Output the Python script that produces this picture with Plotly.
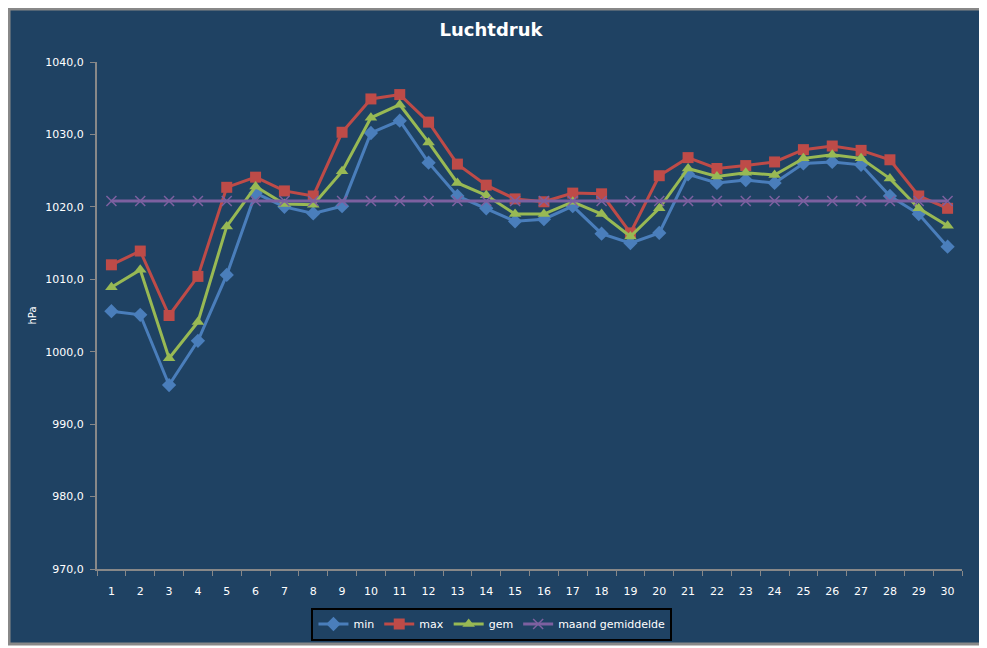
import plotly.graph_objects as go

# dagen van de maand
dagen = [str(d) for d in range(1, 31)]

# luchtdruk in hPa
p_min = [1005.6, 1005.1, 995.4, 1001.5, 1010.6, 1021.9, 1020.0, 1019.1, 1020.1, 1030.2,
         1031.9, 1026.1, 1021.5, 1019.8, 1018.0, 1018.3, 1020.1, 1016.3, 1015.0, 1016.4,
         1024.5, 1023.3, 1023.7, 1023.3, 1026.0, 1026.2, 1025.8, 1021.5, 1019.0, 1014.5]
p_max = [1012.0, 1013.9, 1005.0, 1010.4, 1022.7, 1024.1, 1022.2, 1021.5, 1030.3, 1034.9,
         1035.5, 1031.7, 1025.9, 1023.0, 1021.1, 1020.7, 1021.9, 1021.8, 1016.4, 1024.3,
         1026.8, 1025.3, 1025.7, 1026.2, 1027.9, 1028.4, 1027.8, 1026.5, 1021.5, 1019.8]
p_gem = [1008.9, 1011.3, 999.1, 1004.1, 1017.3, 1022.8, 1020.4, 1020.3, 1024.9, 1032.3,
         1034.1, 1028.9, 1023.3, 1021.6, 1019.0, 1019.0, 1020.7, 1019.0, 1015.9, 1019.8,
         1025.3, 1024.2, 1024.7, 1024.4, 1026.7, 1027.2, 1026.7, 1023.9, 1019.8, 1017.4]
p_maand = [1020.8] * 30

bg = "#1F4263"
font = "Verdana, DejaVu Sans, sans-serif"

fig = go.Figure()

series = [
    ("min", p_min, "#4A7EBB", "diamond", 11),
    ("max", p_max, "#BE4B48", "square", 11),
    ("gem", p_gem, "#98B954", "triangle-up", 11),
    ("maand gemiddelde", p_maand, "#7D60A0", "x-thin", 10),
]
for naam, waarden, kleur, symbool, grootte in series:
    fig.add_trace(go.Scatter(
        x=dagen,
        y=waarden,
        name=naam,
        mode="lines+markers",
        line=dict(color=kleur, width=3),
        marker=dict(symbol=symbool, size=grootte, color=kleur,
                    line=dict(color=kleur, width=1.5 if symbool == "x-thin" else 0)),
    ))

# achtergrondkader met grijze rand
fig.add_shape(type="rect", xref="paper", yref="paper",
              x0=-0.1017, x1=1.0231, y0=-0.1479, y1=1.1045,
              fillcolor=bg, line=dict(color="#888888", width=3), layer="below")

# de pagina heeft 8px marge rond de figuur
fig.update_layout(
    width=979,
    height=640,
    margin=dict(l=89, r=25, t=54, b=79, autoexpand=False),
    paper_bgcolor="white",
    plot_bgcolor=bg,
    separators=", ",
    font=dict(family=font, size=11, color="white"),
    title=dict(text="<b>Luchtdruk</b>", x=0.4934, xref="container", xanchor="center",
               y=0.9656, yref="container", yanchor="middle",
               font=dict(family=font, size=18, color="white")),
    showlegend=True,
    legend=dict(orientation="h", x=0.4566, y=-0.1085, xanchor="center", yanchor="middle",
                bgcolor=bg, bordercolor="black", borderwidth=2,
                font=dict(family=font, size=11, color="white"),
                itemwidth=30, tracegroupgap=0),
)

fig.update_xaxes(
    type="category",
    range=[-0.5, 29.5],
    automargin=False,
    showgrid=False,
    showline=True, linecolor="#888888", linewidth=2,
    ticks="outside", tickson="boundaries", ticklen=5, tickcolor="#888888",
    ticklabelstandoff=11,
    tickfont=dict(size=11, color="white"),
)
fig.update_yaxes(
    range=[970, 1040],
    tickvals=[970, 980, 990, 1000, 1010, 1020, 1030, 1040],
    tickformat=".1f",
    automargin=False,
    showgrid=False, zeroline=False,
    showline=True, linecolor="#888888", linewidth=2,
    ticks="outside", ticklen=5, tickcolor="#888888",
    ticklabelstandoff=4,
    tickfont=dict(size=11, color="white"),
    title=dict(text="hPa", font=dict(size=10, color="white"), standoff=7),
)

fig.write_html("out.html")
